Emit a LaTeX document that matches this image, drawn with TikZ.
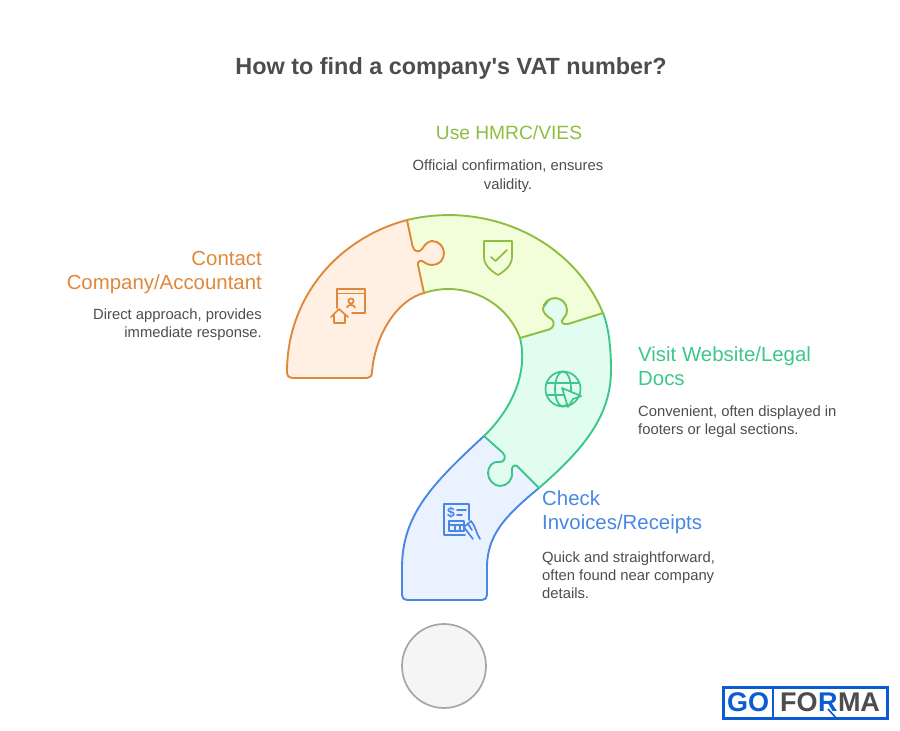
\documentclass[tikz,border=0pt]{standalone}
\usepackage{fontspec}
\setmainfont{Liberation Sans}
\usepackage{xcolor}
\usetikzlibrary{positioning}
\definecolor{orangeline}{HTML}{E0883A}
\definecolor{orangefill}{HTML}{FFF0E3}
\definecolor{limeline}{HTML}{8DBE3F}
\definecolor{limefill}{HTML}{F2FDD9}
\definecolor{mintline}{HTML}{3CC68A}
\definecolor{mintfill}{HTML}{E0FDEF}
\definecolor{blueline}{HTML}{4A86E4}
\definecolor{bluefill}{HTML}{EBF2FF}
\definecolor{textgray}{HTML}{4D4D4D}
\definecolor{logoblue}{HTML}{0B5BD3}
\tikzset{
  piece/.style={line width=1.9pt, line join=round},
  iconline/.style={line width=1.7pt, line join=round, line cap=round},
  titletext/.style={inner sep=0pt, text=textgray, font=\fontsize{23.4}{28}\selectfont\bfseries},
  headtext/.style={inner sep=0pt, font=\fontsize{20.4}{24}\selectfont},
  desctext/.style={inner sep=0pt, text=textgray, font=\fontsize{14.8}{18}\selectfont},
  logotext/.style={inner sep=0pt, font=\fontsize{27}{27}\selectfont\bfseries}
}

\begin{document}
\begin{tikzpicture}[x=1pt,y=-1pt]
	\useasboundingbox (0,0) rectangle (900,731);
	\node[titletext] (title) at (451,68) {How to find a company\textquotesingle s VAT number?};

	% pieces, lowest first
	\draw[piece, draw=blueline, fill=bluefill] (484,436) -- (525,435) -- (539,488)
		.. controls (505,516) and (487,535) .. (487,568) -- (487,595)
		.. controls (487,598) and (485,600) .. (482,600) -- (407,600)
		.. controls (404,600) and (402,598) .. (402,595) -- (402,568)
		.. controls (402,515) and (432,484) .. (484,436) -- cycle;
	\draw[piece, draw=mintline, fill=mintfill] (520,338) -- (560,285) -- (603,313)
		.. controls (608,325) and (611,345) .. (611,370)
		.. controls (611,415) and (585,448) .. (539,488) -- (517,466)
		.. controls (514,464) and (511,467) .. (512,472)
		.. controls (513,480) and (507,486) .. (500,486)
		.. controls (494,486) and (488,480) .. (488,473)
		.. controls (488,467) and (492,461) .. (499,462)
		.. controls (504,463) and (507,457) .. (503,453) -- (484,436)
		.. controls (514,407) and (528,370) .. (520,338) -- cycle;
	\draw[piece, draw=limeline, fill=limefill] (407,220) .. controls (486,201) and (571.5,238) .. (603,313)
		-- (568,324) .. controls (563,325) and (560,322) .. (563,319)
		.. controls (565,317) and (567,314) .. (567,310)
		.. controls (567,303) and (561,298) .. (555,298)
		.. controls (549,298) and (543,303) .. (543,309)
		.. controls (543,312) and (546,316) .. (552,319.5)
		.. controls (555,322) and (554,328) .. (549,329.5) -- (520,338)
		.. controls (506,300) and (463,280) .. (424,293) -- (395,255) -- cycle;
	\draw[piece, draw=orangeline, fill=orangefill] (287,372)
		.. controls (287,299) and (336,239) .. (407,220) -- (412.5,246)
		.. controls (414,252) and (419,253) .. (422,249)
		.. controls (425,244) and (429,241) .. (432,241)
		.. controls (439,241) and (444,247) .. (444,253)
		.. controls (444,260) and (439,265) .. (432,265)
		.. controls (428,265) and (425,263) .. (423,261.5)
		.. controls (421,260) and (417,261) .. (418,265) -- (424,293)
		.. controls (397,300) and (375,335) .. (372,372)
		.. controls (372,376) and (370,378) .. (367,378) -- (292,378)
		.. controls (289,378) and (287,376) .. (287,372) -- cycle;
	\node[circle, minimum size=84pt, inner sep=0pt, draw=black!35, line width=1.7pt, fill=black!4] (dot) at (444,666) {};

	% orange icon
	\draw[iconline, orangeline] (337,308) -- (337,289) -- (365,289) -- (365,313) -- (352,313);
	\draw[iconline, orangeline] (337,293.5) -- (365,293.5);
	\draw[iconline, orangeline] (351,301) circle (2.6pt);
	\draw[iconline, orangeline] (347,307.5) .. controls (348,304) and (354,304) .. (355,307.5);
	\draw[iconline, orangeline] (331,317) -- (339,309) -- (348,317);
	\draw[iconline, orangeline] (334,315) -- (334,323) -- (345,323) -- (345,315);
	% shield icon
	\draw[iconline, limeline] (484,241) -- (512,241) -- (512,257)
		.. controls (512,265) and (505,271) .. (498,275)
		.. controls (491,271) and (484,265) .. (484,257) -- cycle;
	\draw[iconline, limeline] (491,257) -- (495.5,261) -- (507,250);
	% globe icon
	\draw[iconline, mintline] (563,389) circle (17.5pt);
	\draw[iconline, mintline] (563,389) ellipse (8pt and 17.5pt);
	\draw[iconline, mintline] (547,383) -- (579,383);
	\draw[iconline, mintline] (547,395) -- (579,395);
	\draw[iconline, mintline, fill=mintfill] (562,388) -- (581,396) -- (573,399) -- (568,407) -- cycle;
	% invoice icon
	\draw[iconline, blueline] (469,520) -- (469,504) -- (444,504) -- (444,535) -- (465,535);
	\node[inner sep=0pt, text=blueline, font=\fontsize{14}{14}\selectfont\bfseries] (dollar) at (451,513) {\$};
	\draw[iconline, blueline] (457,510) -- (466,510);
	\draw[iconline, blueline] (457,515) -- (462,515);
	\draw[iconline, blueline] (449,521) rectangle (464,531);
	\draw[iconline, blueline] (449,525) -- (464,525);
	\draw[iconline, blueline] (455,525) -- (455,531);
	\draw[iconline, blueline] (460,525) -- (460,531);
	\draw[iconline, blueline, fill=bluefill] (473,539) .. controls (469,534) and (466,530) .. (464,527)
		-- (471,521) .. controls (476,527) and (476,533) .. (480,539);
	\draw[iconline, blueline] (468,524) -- (472,530);

	% labels
	\node[headtext, font=\fontsize{19.2}{24}\selectfont, text=limeline, anchor=base] (hmrc_head) at (509,139.5) {Use HMRC/VIES};
	\node[desctext, anchor=north, align=center, font=\fontsize{14.8}{18.5}\selectfont] (hmrc_desc) at (508,160) {Official confirmation, ensures\\validity.};
	\node[headtext, text=orangeline, anchor=north east, align=right] (contact_head) at (262,251) {Contact\\Company/Accountant};
	\node[desctext, anchor=north east, align=right] (contact_desc) at (262,309) {Direct approach, provides\\immediate response.};
	\node[headtext, text=mintline, anchor=north west, align=left] (website_head) at (638,347) {Visit Website/Legal\\Docs};
	\node[desctext, anchor=north west, align=left] (website_desc) at (638,406) {Convenient, often displayed in\\footers or legal sections.};
	\node[headtext, text=blueline, anchor=north west, align=left] (invoice_head) at (542,491) {Check\\Invoices/Receipts};
	\node[desctext, anchor=north west, align=left] (invoice_desc) at (542,552) {Quick and straightforward,\\often found near company\\details.};

	% logo
	\draw[line width=3pt, logoblue, fill=white] (723,687) rectangle (887,718);
	\draw[line width=1.5pt, logoblue] (773,687) -- (773,718);
	\node[logotext, text=logoblue] (logo_go) at (748,702.5) {GO};
	\node[logotext, text=textgray, anchor=west] (logo_fo) at (780,702.5) {FO};
	\node[logotext, text=logoblue, right=0pt of logo_fo] (logo_r) {R};
	\node[logotext, text=textgray, right=0pt of logo_r] (logo_ma) {MA};
	\coordinate (leg_a) at (828,709);
	\coordinate (leg_b) at (837,719);
	\draw[line width=1.6pt, logoblue] (leg_a) -- (leg_b);
\end{tikzpicture}
\end{document}
